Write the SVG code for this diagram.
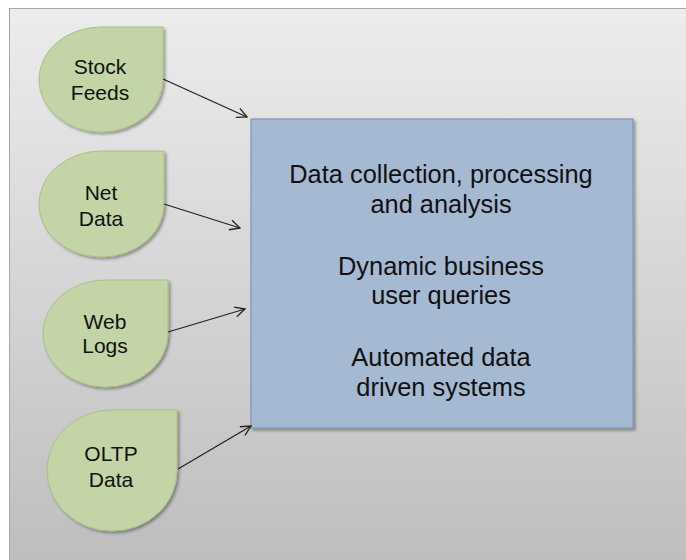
<svg xmlns="http://www.w3.org/2000/svg" width="686" height="560" viewBox="0 0 686 560">
  <defs>
    <linearGradient id="bg" x1="0" y1="0" x2="0" y2="1">
      <stop offset="0" stop-color="#ececec"/>
      <stop offset="1" stop-color="#bdbdbd"/>
    </linearGradient>
    <filter id="shadow" x="-10%" y="-10%" width="130%" height="130%">
      <feGaussianBlur in="SourceAlpha" stdDeviation="1.5"/>
      <feOffset dx="1.5" dy="2" result="b"/>
      <feComponentTransfer><feFuncA type="linear" slope="0.35"/></feComponentTransfer>
      <feMerge><feMergeNode/><feMergeNode in="SourceGraphic"/></feMerge>
    </filter>
    <marker id="open" viewBox="0 0 12 12" refX="11" refY="6" markerWidth="12" markerHeight="12" markerUnits="userSpaceOnUse" orient="auto">
      <path d="M1,1 L11,6 L1,11" fill="none" stroke="#222" stroke-width="1.3"/>
    </marker>
    <style>
      .drop { fill: #c3d4a7; stroke: #a9bf87; stroke-width: 1; filter: url(#shadow); }
      .lbl { font-family: "Liberation Sans", Arial, sans-serif; font-size: 21px; fill: #111; text-anchor: middle; }
      .main { font-family: "Liberation Sans", Arial, sans-serif; font-size: 25.4px; fill: #111; text-anchor: middle; }
      .edge { stroke: #222; stroke-width: 1.3; fill: none; marker-end: url(#open); }
    </style>
  </defs>

  <!-- frame -->
  <rect x="0" y="0" width="686" height="560" fill="#ffffff"/>
  <rect x="9.5" y="8.5" width="690" height="560" fill="url(#bg)" stroke="#a8a8a8" stroke-width="1"/>

  <!-- central box -->
  <g id="core">
    <rect x="251" y="119" width="382" height="309" fill="#a5b9d3" stroke="#7e96b4" stroke-width="1.2" filter="url(#shadow)"/>
    <text class="main" x="441" y="183">Data collection, processing</text>
    <text class="main" x="441" y="213">and analysis</text>
    <text class="main" x="441" y="275">Dynamic business</text>
    <text class="main" x="441" y="304">user queries</text>
    <text class="main" x="441" y="366">Automated data</text>
    <text class="main" x="441" y="396">driven systems</text>
  </g>

  <!-- sources -->
  <g id="stock-feeds">
    <path class="drop" d="M101,27 L163,27 L163,79.5 A62,52.5 0 0 1 101,132 A62,52.5 0 0 1 39,79.5 A62,52.5 0 0 1 101,27 Z"/>
    <text class="lbl" x="100" y="74">Stock</text>
    <text class="lbl" x="100" y="100">Feeds</text>
  </g>
  <g id="net-data">
    <path class="drop" d="M101.5,151 L164,151 L164,204 A62.5,53 0 0 1 101.5,257 A62.5,53 0 0 1 39,204 A62.5,53 0 0 1 101.5,151 Z"/>
    <text class="lbl" x="101" y="200">Net</text>
    <text class="lbl" x="101" y="226">Data</text>
  </g>
  <g id="web-logs">
    <path class="drop" d="M105.5,280 L168,280 L168,333.5 A62.5,53.5 0 0 1 105.5,387 A62.5,53.5 0 0 1 43,333.5 A62.5,53.5 0 0 1 105.5,280 Z"/>
    <text class="lbl" x="105" y="329">Web</text>
    <text class="lbl" x="105" y="353">Logs</text>
  </g>
  <g id="oltp-data">
    <path class="drop" d="M112,410 L177,410 L177,470.5 A65,60.5 0 0 1 112,531 A65,60.5 0 0 1 47,470.5 A65,60.5 0 0 1 112,410 Z"/>
    <text class="lbl" x="111" y="461">OLTP</text>
    <text class="lbl" x="111" y="487">Data</text>
  </g>

  <!-- connectors -->
  <g id="connectors">
    <line class="edge" x1="163" y1="79" x2="247" y2="117"/>
    <line class="edge" x1="164" y1="204" x2="240" y2="228"/>
    <line class="edge" x1="168" y1="332" x2="245" y2="309"/>
    <line class="edge" x1="178" y1="469" x2="251" y2="426"/>
  </g>
</svg>
